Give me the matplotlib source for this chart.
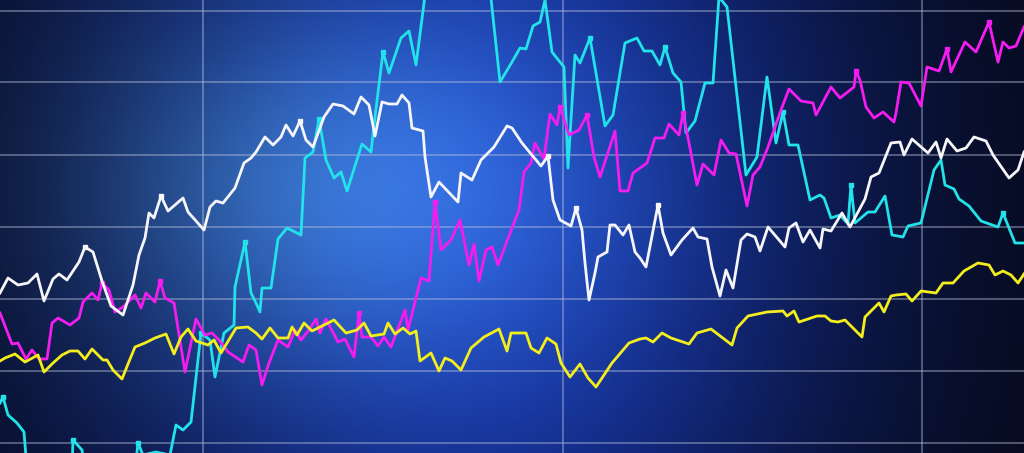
import numpy as np
import matplotlib
matplotlib.use("Agg")
import matplotlib.pyplot as plt

# ---------------- data ----------------
white_x = [0,8,18,28,37,44,53,59,67,79,85,93,102,111,123,128,133,139,145,149,
           154,161,168,183,188,204,210,216,223,235,244,251,256,265,273,281,286,293,300,306,
           313,324,333,343,354,361,369,375,382,389,397,402,409,412,423,425,431,439,458,461,
           472,481,494,507,512,522,541,548,553,560,571,576,582,585,589,595,598,607,610,615,
           623,629,635,640,646,658,663,671,682,693,698,707,712,720,726,733,741,747,755,760,
           768,785,789,796,803,810,820,823,831,842,850,865,871,879,891,900,904,912,928,936,
           941,947,957,966,974,986,993,1009,1018,1024]
white_y = [293,278,285,283,274,301,279,274,280,262,247,252,281,306,315,300,285,255,238,213,
           218,196,211,198,212,230,207,201,203,188,163,158,152,137,145,137,125,136,121,140,
           147,117,104,106,114,97,105,136,102,104,104,95,103,128,131,157,197,182,202,173,
           180,160,147,126,128,143,166,156,200,220,226,208,230,263,300,273,257,252,225,225,
           235,225,252,258,267,205,233,255,240,228,237,239,267,296,270,288,240,234,237,251,
           227,247,228,223,242,230,248,229,231,213,227,199,177,173,143,142,155,139,153,142,
           158,139,151,148,137,141,155,178,170,152]

magenta_x = [0,12,18,26,32,39,47,52,58,70,79,83,92,98,102,109,115,123,128,135,
             141,146,155,160,165,174,185,196,205,212,219,228,243,249,256,262,269,278,288,295,
             301,309,316,320,326,338,345,354,359,362,371,378,384,391,405,408,421,429,435,441,
             451,460,469,474,479,486,492,498,512,519,524,531,535,544,550,557,560,569,579,587,
             594,600,615,620,628,633,640,647,655,664,669,679,683,689,697,703,714,721,729,736,
             747,753,760,768,781,789,801,813,816,831,840,854,856,860,866,874,883,894,896,901,
             909,921,927,939,947,951,965,976,989,998,1003,1009,1016,1024]
magenta_y = [313,344,343,359,350,359,359,323,318,325,318,302,293,300,283,290,312,307,302,295,
             308,293,302,281,298,303,372,319,335,333,340,352,362,345,350,385,363,340,347,330,
             340,330,319,333,319,342,339,357,313,337,337,346,337,347,310,330,278,281,202,250,
             240,220,265,244,281,250,247,265,228,210,172,163,143,159,114,125,107,135,130,115,
             157,177,131,191,191,173,168,163,138,138,124,135,113,143,185,164,175,140,153,154,
             206,175,167,147,110,89,101,103,115,87,98,87,71,80,107,118,112,122,113,82,
             83,106,67,71,49,72,42,52,22,62,42,48,46,27]

cyan_x = [0,3,8,17,24,27,50,72,73,82,85,110,135,138,143,156,170,176,183,191,
          201,210,215,224,234,235,245,251,256,260,262,271,278,287,301,305,313,319,326,334,
          341,347,362,371,375,383,389,401,409,416,427,440,480,489,500,512,520,526,533,540,
          545,552,564,568,575,580,590,605,613,625,637,644,652,660,665,673,681,686,695,705,
          713,719,727,746,757,767,776,783,789,798,810,820,824,831,840,848,851,855,868,875,
          885,892,903,908,921,934,941,945,954,959,969,981,998,1003,1015,1024]
cyan_y = [403,397,415,423,432,470,475,470,440,450,470,475,470,443,455,452,455,425,430,422,
          333,340,377,333,325,287,242,293,303,312,288,288,239,228,235,158,152,119,160,178,
          172,191,144,152,117,52,73,38,31,65,-20,-30,-30,-20,82,62,48,49,26,22,
          0,52,67,168,55,63,38,126,115,43,38,51,51,65,47,73,82,133,121,83,
          83,-3,7,175,157,77,143,112,145,145,200,195,198,218,215,224,185,223,212,212,
          196,235,237,226,223,170,160,185,189,199,206,221,227,213,243,243]

yellow_x = [0,5,15,25,38,44,53,62,70,78,85,92,103,107,113,122,128,135,145,155,
            166,174,181,188,196,208,214,221,236,248,256,262,270,278,288,292,297,304,312,334,
            346,357,364,371,384,388,395,403,410,416,420,431,439,445,452,461,471,484,499,507,
            511,526,531,539,547,556,561,570,580,588,596,612,629,640,646,653,662,671,689,697,
            711,732,737,748,767,783,787,794,799,817,825,831,838,845,862,865,879,884,891,896,
            906,912,921,936,943,953,964,978,989,995,1003,1011,1018,1024]
yellow_y = [361,358,354,362,355,372,363,355,351,351,359,349,360,360,370,379,364,347,343,338,
            334,354,337,329,341,345,340,353,328,327,333,339,328,338,338,327,335,323,331,320,
            333,330,323,336,334,323,334,328,334,331,361,353,371,358,361,370,348,337,329,351,
            333,333,348,353,338,344,363,377,364,378,387,363,343,339,338,342,333,338,344,333,
            329,345,328,316,312,311,316,311,322,316,316,321,322,320,337,317,303,312,296,295,
            294,301,291,293,283,283,271,263,265,275,271,275,283,274]

# vertices that carry a small dot in the picture
white_marks = [10, 21, 38, 67, 71, 85]
magenta_marks = [14, 23, 48, 58, 76, 79, 92, 112, 124, 128]
cyan_marks = [1, 8, 13, 20, 26, 37, 45, 66, 74, 87, 96, 113]

grid_x = [203, 563, 922]
grid_y = [11, 82, 155, 227, 299, 371, 443]

# ---------------- figure ----------------
W, H = 1024, 453
fig = plt.figure(figsize=(W / 100, H / 100), dpi=100)
ax = fig.add_axes([0, 0, 1, 1])

# background: blue wash with horizontal vignette and a soft central light
gx, gy = np.meshgrid(np.arange(W) + 0.5, np.arange(H) + 0.5)
rxh = np.where(gx < 470, 390.0, 360.0)
v = np.exp(-((gx - 470) / rxh) ** 2) * np.exp(-((gy - 200) / 480.0) ** 2)
g = np.exp(-0.5 * (((gx - 340) / 175.0) ** 2 + ((gy - 190) / 130.0) ** 2))
floor = np.array([6, 8, 22]) / 255
base = np.array([18, 50, 165]) / 255
spot = np.array([35, 65, 45]) / 255
img = floor + v[..., None] * base + g[..., None] * spot
img = np.clip(img, 0, 1)
ax.imshow(img, extent=[0, W, H, 0], aspect="auto", zorder=0, interpolation="bilinear")

ax.set_xlim(0, W)
ax.set_ylim(H, 0)
ax.set_xticks(grid_x)
ax.set_yticks(grid_y)
ax.grid(True, color=(0.72, 0.75, 0.85), alpha=0.5, linewidth=1.2, zorder=1)
ax.tick_params(length=0, labelbottom=False, labelleft=False)
for s in ax.spines.values():
    s.set_visible(False)

lw = 2.0
ms = 2.6
ax.plot(cyan_x, cyan_y, color="#22e2ea", lw=lw, zorder=3,
        marker="s", ms=ms, markevery=cyan_marks)
ax.plot(magenta_x, magenta_y, color="#f41cf0", lw=lw, zorder=3,
        marker="s", ms=ms, markevery=magenta_marks)
ax.plot(yellow_x, yellow_y, color="#f4ee1c", lw=lw, zorder=3)
ax.plot(white_x, white_y, color="#f6f6fa", lw=lw, zorder=4,
        marker="s", ms=ms, markevery=white_marks)

fig.savefig("out.png", dpi=100)
